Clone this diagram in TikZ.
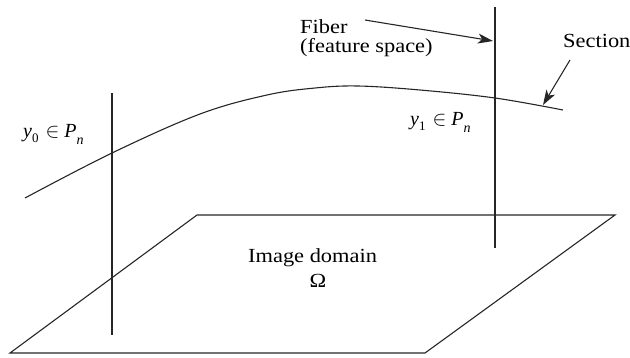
\documentclass[tikz,border=0pt]{standalone}
\usepackage{fontspec}
\setmainfont{Liberation Serif}
\usetikzlibrary{arrows.meta}
\newcommand{\wide}[1]{\scalebox{1.12}[1]{#1}}
\begin{document}
\begin{tikzpicture}[x=1pt,y=-1pt,
  ln/.style={line width=1.1pt,draw=black!85},
  arr/.style={ln,-{Stealth[length=15pt,width=10pt,inset=4pt]}},
  lbl/.style={inner sep=0pt,anchor=base west,font=\fontsize{20}{24}\selectfont}]
\useasboundingbox (0,0) rectangle (630,357);
% image domain
\coordinate (pTL) at (197,215);
\coordinate (pTR) at (615,215);
\coordinate (pBR) at (425,353);
\coordinate (pBL) at (10,353);
\draw[ln,line join=miter] (pTL) -- (pTR) -- (pBR) -- (pBL) -- cycle;
% fibers
\coordinate (f0t) at (112,93);
\coordinate (f0b) at (112,335);
\coordinate (f1t) at (495,7);
\coordinate (f1b) at (495,248);
\draw[ln] (f0t) -- (f0b);
\draw[ln] (f1t) -- (f1b);
% section curve
\draw[ln] plot[smooth,tension=0.6] coordinates {(25,198) (112,153) (200,114) (267,95) (315,88) (358,86) (420,90) (495,98) (563,110)};
% labels
\node[lbl] (fiber) at (300,33) {\wide{Fiber}};
\node[lbl] (feat) at (300,52) {\wide{(feature space)}};
\node[lbl] (sect) at (563,47) {\wide{Section}};
\node[lbl] (img) at (248,262) {\wide{Image domain}};
\node[lbl,anchor=base] (om) at (318,287) {\wide{Ω}};
\node[lbl] (y0) at (23,137) {\itshape y\raisebox{-5pt}{\fontsize{13}{13}\selectfont\upshape 0}\hspace{7pt}$\in$\hspace{5pt}P\raisebox{-7pt}{\fontsize{14}{14}\selectfont n}};
\node[lbl] (y1) at (410,125) {\itshape y\raisebox{-5pt}{\fontsize{13}{13}\selectfont\upshape 1}\hspace{7pt}$\in$\hspace{5pt}P\raisebox{-7pt}{\fontsize{14}{14}\selectfont n}};
% arrows
\coordinate (fa0) at (365,20);
\coordinate (fa1) at (493,41);
\coordinate (sa0) at (570,60);
\coordinate (sa1) at (543,105);
\draw[arr] (fa0) -- (fa1);
\draw[arr] (sa0) -- (sa1);
\end{tikzpicture}
\end{document}
